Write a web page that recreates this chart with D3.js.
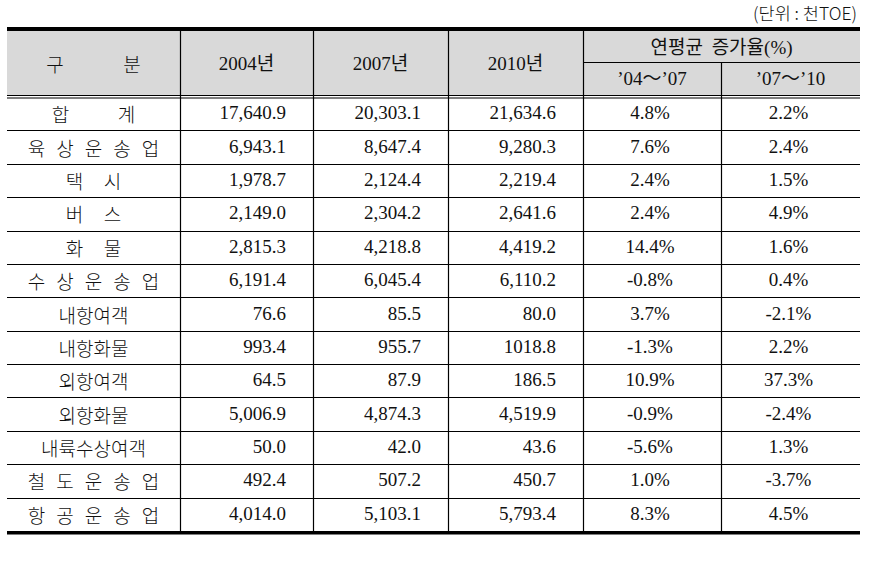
<!DOCTYPE html>
<html>
<head>
<meta charset="utf-8">
<script src="https://cdn.jsdelivr.net/npm/d3@7"></script>
<style>
  body { margin: 0; background: #fff; }
  svg text { font-family: "Liberation Serif", "Noto Sans CJK KR", serif; fill: #111; }
  .kr { font-family: "Noto Sans CJK KR", sans-serif; font-weight: 300; }
</style>
</head>
<body>
<svg id="table"></svg>
<script>
const width = 880;
const height = 569;

// table data
const rowLabels = ["합 계", "육 상 운 송 업", "택 시", "버 스", "화 물", "수 상 운 송 업",
    "내항여객", "내항화물", "외항여객", "외항화물", "내륙수상여객", "철 도 운 송 업", "항 공 운 송 업"];
const years = ["2004년", "2007년", "2010년"];
const rateLabels = ["’04～’07", "’07～’10"];
const v2004 = [17640.9, 6943.1, 1978.7, 2149.0, 2815.3, 6191.4, 76.6, 993.4, 64.5, 5006.9, 50.0, 492.4, 4014.0];
const v2007 = [20303.1, 8647.4, 2124.4, 2304.2, 4218.8, 6045.4, 85.5, 955.7, 87.9, 4874.3, 42.0, 507.2, 5103.1];
const v2010 = [21634.6, 9280.3, 2219.4, 2641.6, 4419.2, 6110.2, 80.0, 1018.8, 186.5, 4519.9, 43.6, 450.7, 5793.4];
const rate0407 = [4.8, 7.6, 2.4, 2.4, 14.4, -0.8, 3.7, -1.3, 10.9, -0.9, -5.6, 1.0, 8.3];
const rate0710 = [2.2, 2.4, 1.5, 4.9, 1.6, 0.4, -2.1, 2.2, 37.3, -2.4, 1.3, -3.7, 4.5];

const locale = d3.formatLocale({decimal: ".", thousands: ",", grouping: [3], currency: ["", ""], minus: "-"});
const fmtNum = locale.format(",.1f");
const fmtPlain = locale.format(".1f");
const fmtPct = v => locale.format(".1f")(v) + "%";

const svg = d3.select("#table")
    .attr("width", width)
    .attr("height", height);

// column edges
const colKeys = ["label", "y2004", "y2007", "y2010", "r1", "r2"];
const edges = [7, 180, 313, 448, 583, 721, 860];
const x0 = d3.scaleOrdinal().domain(colKeys).range(edges.slice(0, 6));
const x1 = d3.scaleOrdinal().domain(colKeys).range(edges.slice(1));

const headTop = 31, headMid = 62, headBottom = 95;
const y = d3.scaleBand()
    .domain(rowLabels)
    .range([97, 531])
    .paddingInner(0);

// header background
svg.append("rect")
    .attr("x", edges[0]).attr("y", headTop)
    .attr("width", edges[6] - edges[0]).attr("height", headBottom - headTop)
    .attr("fill", "#d9d9d9");

// unit
svg.append("text")
    .attr("x", 857).attr("y", 20)
    .attr("text-anchor", "end")
    .attr("class", "kr")
    .style("font-size", "17.5px")
    .text("(단위 : 천TOE)");

// header texts
const hy = (headTop + headBottom) / 2;
svg.append("text").attr("class", "kr").attr("x", 55).attr("y", hy)
    .attr("text-anchor", "middle").attr("dominant-baseline", "central")
    .style("font-size", "19px").text("구");
svg.append("text").attr("class", "kr").attr("x", 132).attr("y", hy)
    .attr("text-anchor", "middle").attr("dominant-baseline", "central")
    .style("font-size", "19px").text("분");

svg.selectAll(".year")
    .data(years)
    .join("text")
        .attr("class", "year")
        .attr("x", (d, i) => (x0(colKeys[i + 1]) + x1(colKeys[i + 1])) / 2)
        .attr("y", hy)
        .attr("text-anchor", "middle")
        .attr("dominant-baseline", "central")
        .style("font-size", "19px")
        .text(d => d);

svg.append("text")
    .attr("x", (x0("r1") + x1("r2")) / 2)
    .attr("y", (headTop + headMid) / 2 + 1)
    .attr("text-anchor", "middle")
    .attr("dominant-baseline", "central")
    .style("font-size", "19px")
    .style("word-spacing", "4px")
    .text("연평균 증가율(%)");

svg.selectAll(".rateHead")
    .data(rateLabels)
    .join("text")
        .attr("class", "rateHead")
        .attr("x", (d, i) => (x0(colKeys[i + 4]) + x1(colKeys[i + 4])) / 2)
        .attr("y", (headMid + headBottom) / 2)
        .attr("text-anchor", "middle")
        .attr("dominant-baseline", "central")
        .style("font-size", "19px")
        .text(d => d);

// body cells
const spans = {"합 계": 66, "택 시": 38, "버 스": 38, "화 물": 38};

rowLabels.forEach((label, i) => {
    const cy = y(label) + y.bandwidth() / 2;
    const chars = label.split(" ");
    const cx = (x0("label") + x1("label")) / 2;
    const span = chars.length > 1 ? (spans[label] || 114) : 0;
    const step = chars.length > 1 ? span / (chars.length - 1) : 0;
    svg.selectAll(null)
        .data(chars)
        .join("text")
            .attr("class", "kr")
            .attr("x", (d, k) => cx - span / 2 + k * step)
            .attr("y", cy)
            .attr("text-anchor", "middle")
            .attr("dominant-baseline", "central")
            .style("font-size", "19px")
            .text(d => d);

    ["y2004", "y2007", "y2010"].forEach((k, j) => {
        const v = [v2004, v2007, v2010][j][i];
        // the source prints 1018.8 without a thousands separator
        const txt = v === 1018.8 ? fmtPlain(v) : fmtNum(v);
        svg.append("text")
            .attr("x", x1(k) - 27)
            .attr("y", cy - 1)
            .attr("text-anchor", "end")
            .attr("dominant-baseline", "central")
            .style("font-size", "19px")
            .text(txt);
    });

    [["r1", rate0407[i]], ["r2", rate0710[i]]].forEach(([k, v]) => {
        svg.append("text")
            .attr("x", (x0(k) + x1(k)) / 2 - 2)
            .attr("y", cy - 1)
            .attr("text-anchor", "middle")
            .attr("dominant-baseline", "central")
            .style("font-size", "19px")
            .text(fmtPct(v));
    });
});

// grid lines
const line = (xa, ya, xb, yb, w) => svg.append("line")
    .attr("x1", xa).attr("y1", ya).attr("x2", xb).attr("y2", yb)
    .attr("stroke", "#000").attr("stroke-width", w || 1.2);

rowLabels.slice(0, -1).forEach(l => {
    const yy = Math.round(y(l) + y.bandwidth()) + 0.5;
    line(edges[0], yy, edges[6], yy);
});

line(edges[0], 95.5, edges[6], 95.5);
line(edges[0], 98, edges[6], 98);
line(x0("r1"), headMid + 0.5, edges[6], headMid + 0.5);

colKeys.slice(1).forEach(k => {
    const xx = x0(k) + 0.5;
    line(xx, k === "r2" ? headMid : headTop, xx, 531);
});

svg.append("rect")
    .attr("x", edges[0]).attr("y", 27)
    .attr("width", edges[6] - edges[0]).attr("height", 4)
    .attr("fill", "#000");
svg.append("rect")
    .attr("x", edges[0]).attr("y", 531)
    .attr("width", edges[6] - edges[0]).attr("height", 3.5)
    .attr("fill", "#000");
</script>
</body>
</html>
